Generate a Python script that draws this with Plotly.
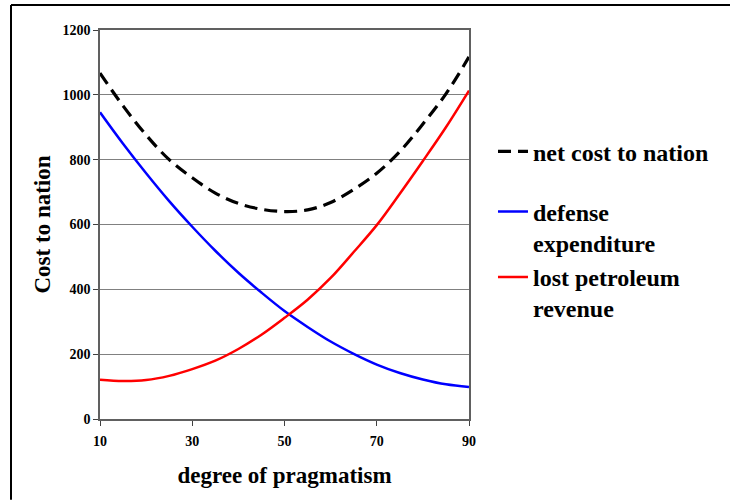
import plotly.graph_objects as go

x_vals = [10, 15, 20, 25, 30, 35, 40, 45, 50, 55, 60, 65, 70, 75, 80, 85, 90]
defense = [946, 849, 758, 672, 593, 519, 451, 390, 333, 284, 239, 201, 168, 142, 122, 107, 99]
petroleum = [121, 117, 120, 133, 154, 180, 216, 260, 312, 368, 435, 515, 598, 695, 796, 900, 1013]
net_cost = [1067, 966, 876, 800, 744, 697, 665, 647, 640, 645, 668, 708, 758, 825, 910, 1003, 1117]

x_ticks = [10, 30, 50, 70, 90]
y_ticks = [0, 200, 400, 600, 800, 1000, 1200]

FONT = "Liberation Serif"

fig = go.Figure()
fig.add_trace(go.Scatter(x=x_vals, y=net_cost, mode="lines", name="net cost to nation",
                         legendgroup="a",
                         line=dict(color="black", width=3.2, dash="13px,7px", shape="spline")))
fig.add_trace(go.Scatter(x=x_vals, y=defense, mode="lines", name="defense<br>expenditure",
                         legendgroup="b",
                         line=dict(color="#0000ff", width=2.5, shape="spline")))
fig.add_trace(go.Scatter(x=x_vals, y=petroleum, mode="lines", name="lost petroleum<br>revenue",
                         legendgroup="b",
                         line=dict(color="#ff0000", width=2.5, shape="spline")))

fig.update_layout(
    width=730, height=500,
    margin=dict(l=100, r=261, t=30, b=81),
    paper_bgcolor="white", plot_bgcolor="white",
    font=dict(family=FONT, color="black", size=14, weight="bold"),
    legend=dict(x=1.065, y=0.745, xanchor="left", yanchor="top",
                font=dict(family=FONT, size=24, weight="bold", color="black"),
                valign="top", tracegroupgap=26, bgcolor="rgba(0,0,0,0)"),
    xaxis=dict(range=[10, 90], tickvals=x_ticks, ticks="outside", ticklen=5,
               tickcolor="#404040", showline=True, linecolor="#606060", linewidth=1.5,
               mirror=True, showgrid=False, zeroline=False, ticklabelstandoff=3,
               tickfont=dict(family=FONT, size=14, weight="bold"),
               title=dict(text="degree of pragmatism", standoff=19,
                          font=dict(family=FONT, size=23, weight="bold"))),
    yaxis=dict(range=[0, 1200], tickvals=y_ticks, ticks="outside", ticklen=5,
               tickcolor="#404040", showline=True, linecolor="#606060", linewidth=1.5,
               mirror=True, showgrid=True, gridcolor="#808080", gridwidth=1,
               zeroline=False,
               tickfont=dict(family=FONT, size=14, weight="bold"),
               title=dict(text="Cost to nation", standoff=5,
                          font=dict(family=FONT, size=23, weight="bold"))),
)

# outer frame (top and left edges visible)
fig.add_shape(type="line", xref="paper", yref="paper",
              x0=(11 - 100) / 369, x1=(730 - 100) / 369,
              y0=(419.3 - 5) / 389.3, y1=(419.3 - 5) / 389.3,
              line=dict(color="black", width=2))
fig.add_shape(type="line", xref="paper", yref="paper",
              x0=(11 - 100) / 369, x1=(11 - 100) / 369,
              y0=(419.3 - 5) / 389.3, y1=(419.3 - 500) / 389.3,
              line=dict(color="black", width=2))

fig.write_html("out.html", config={"displayModeBar": False},
               post_script="document.body.style.margin='0';document.body.style.overflow='hidden';")
